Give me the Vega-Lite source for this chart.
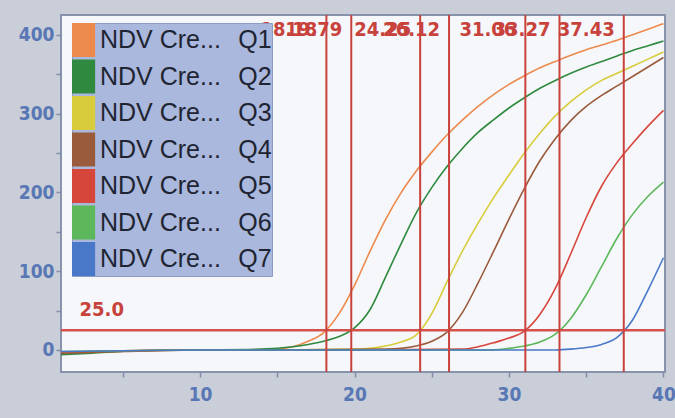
{
  "$schema": "https://vega.github.io/schema/vega-lite/v6.json",
  "width": 604,
  "height": 357,
  "autosize": {"type": "none"},
  "padding": {"left": 61, "top": 15, "right": 10, "bottom": 46},
  "background": "#c9ced8",
  "config": {
    "view": {"fill": "#f6f7fb", "stroke": "#8793ab", "strokeWidth": 2},
    "axis": {
      "grid": false,
      "labelFont": "DejaVu Sans Condensed",
      "labelFontWeight": "bold",
      "labelFontSize": 19,
      "labelColor": "#5877b4",
      "domain": false,
      "tickColor": "#7f8cab",
      "tickSize": 5,
      "tickWidth": 1.5
    },
    "legend": {
      "orient": "none",
      "legendX": 11,
      "legendY": 8,
      "padding": 0,
      "fillColor": "#a9b8dc",
      "strokeColor": "#8d9cc4",
      "symbolType": "M-1,-1H0.36V1H-1Z",
      "symbolSize": 1156,
      "symbolStrokeWidth": 0,
      "labelFont": "Liberation Sans",
      "labelFontSize": 25,
      "labelColor": "#1f2432",
      "labelOffset": -6,
      "labelLimit": 400,
      "rowPadding": 2.5
    }
  },
  "datasets": {
    "curves": [
      {"series": "Q1", "cycle": 1, "rfu": -5}, {"series": "Q1", "cycle": 3, "rfu": -3}, {"series": "Q1", "cycle": 6, "rfu": -1}, {"series": "Q1", "cycle": 10, "rfu": 0}, {"series": "Q1", "cycle": 13, "rfu": 0}, {"series": "Q1", "cycle": 15, "rfu": 1}, {"series": "Q1", "cycle": 16, "rfu": 4}, {"series": "Q1", "cycle": 17, "rfu": 11}, {"series": "Q1", "cycle": 18, "rfu": 22}, {"series": "Q1", "cycle": 19, "rfu": 46}, {"series": "Q1", "cycle": 20, "rfu": 82}, {"series": "Q1", "cycle": 21, "rfu": 125}, {"series": "Q1", "cycle": 22, "rfu": 165}, {"series": "Q1", "cycle": 23, "rfu": 199}, {"series": "Q1", "cycle": 24, "rfu": 227}, {"series": "Q1", "cycle": 25, "rfu": 251}, {"series": "Q1", "cycle": 26, "rfu": 273}, {"series": "Q1", "cycle": 27, "rfu": 292}, {"series": "Q1", "cycle": 28, "rfu": 309}, {"series": "Q1", "cycle": 29, "rfu": 324}, {"series": "Q1", "cycle": 30, "rfu": 337}, {"series": "Q1", "cycle": 31, "rfu": 348}, {"series": "Q1", "cycle": 32, "rfu": 358}, {"series": "Q1", "cycle": 33, "rfu": 366}, {"series": "Q1", "cycle": 34, "rfu": 374}, {"series": "Q1", "cycle": 35, "rfu": 381}, {"series": "Q1", "cycle": 36, "rfu": 387}, {"series": "Q1", "cycle": 37, "rfu": 393}, {"series": "Q1", "cycle": 38, "rfu": 400}, {"series": "Q1", "cycle": 39, "rfu": 407}, {"series": "Q1", "cycle": 40, "rfu": 414},
      {"series": "Q2", "cycle": 1, "rfu": -6}, {"series": "Q2", "cycle": 3, "rfu": -4}, {"series": "Q2", "cycle": 6, "rfu": -1}, {"series": "Q2", "cycle": 10, "rfu": 0}, {"series": "Q2", "cycle": 14, "rfu": 1}, {"series": "Q2", "cycle": 16, "rfu": 4}, {"series": "Q2", "cycle": 17, "rfu": 7}, {"series": "Q2", "cycle": 18, "rfu": 11}, {"series": "Q2", "cycle": 19, "rfu": 17}, {"series": "Q2", "cycle": 20, "rfu": 28}, {"series": "Q2", "cycle": 21, "rfu": 51}, {"series": "Q2", "cycle": 22, "rfu": 92}, {"series": "Q2", "cycle": 23, "rfu": 134}, {"series": "Q2", "cycle": 24, "rfu": 174}, {"series": "Q2", "cycle": 25, "rfu": 206}, {"series": "Q2", "cycle": 26, "rfu": 233}, {"series": "Q2", "cycle": 27, "rfu": 256}, {"series": "Q2", "cycle": 28, "rfu": 276}, {"series": "Q2", "cycle": 29, "rfu": 292}, {"series": "Q2", "cycle": 30, "rfu": 307}, {"series": "Q2", "cycle": 31, "rfu": 320}, {"series": "Q2", "cycle": 32, "rfu": 332}, {"series": "Q2", "cycle": 33, "rfu": 342}, {"series": "Q2", "cycle": 34, "rfu": 351}, {"series": "Q2", "cycle": 35, "rfu": 359}, {"series": "Q2", "cycle": 36, "rfu": 366}, {"series": "Q2", "cycle": 37, "rfu": 373}, {"series": "Q2", "cycle": 38, "rfu": 380}, {"series": "Q2", "cycle": 39, "rfu": 386}, {"series": "Q2", "cycle": 40, "rfu": 392},
      {"series": "Q3", "cycle": 1, "rfu": -3}, {"series": "Q3", "cycle": 5, "rfu": -1}, {"series": "Q3", "cycle": 10, "rfu": 0}, {"series": "Q3", "cycle": 15, "rfu": 0}, {"series": "Q3", "cycle": 20, "rfu": 1}, {"series": "Q3", "cycle": 21, "rfu": 2}, {"series": "Q3", "cycle": 22, "rfu": 5}, {"series": "Q3", "cycle": 23, "rfu": 10}, {"series": "Q3", "cycle": 24, "rfu": 19}, {"series": "Q3", "cycle": 25, "rfu": 46}, {"series": "Q3", "cycle": 26, "rfu": 87}, {"series": "Q3", "cycle": 27, "rfu": 126}, {"series": "Q3", "cycle": 28, "rfu": 161}, {"series": "Q3", "cycle": 29, "rfu": 193}, {"series": "Q3", "cycle": 30, "rfu": 222}, {"series": "Q3", "cycle": 31, "rfu": 250}, {"series": "Q3", "cycle": 32, "rfu": 275}, {"series": "Q3", "cycle": 33, "rfu": 297}, {"series": "Q3", "cycle": 34, "rfu": 315}, {"series": "Q3", "cycle": 35, "rfu": 330}, {"series": "Q3", "cycle": 36, "rfu": 342}, {"series": "Q3", "cycle": 37, "rfu": 351}, {"series": "Q3", "cycle": 38, "rfu": 360}, {"series": "Q3", "cycle": 39, "rfu": 369}, {"series": "Q3", "cycle": 40, "rfu": 378},
      {"series": "Q4", "cycle": 1, "rfu": -4}, {"series": "Q4", "cycle": 5, "rfu": -2}, {"series": "Q4", "cycle": 10, "rfu": 0}, {"series": "Q4", "cycle": 15, "rfu": 0}, {"series": "Q4", "cycle": 22, "rfu": 1}, {"series": "Q4", "cycle": 23, "rfu": 2}, {"series": "Q4", "cycle": 24, "rfu": 5}, {"series": "Q4", "cycle": 25, "rfu": 11}, {"series": "Q4", "cycle": 26, "rfu": 23}, {"series": "Q4", "cycle": 27, "rfu": 48}, {"series": "Q4", "cycle": 28, "rfu": 85}, {"series": "Q4", "cycle": 29, "rfu": 125}, {"series": "Q4", "cycle": 30, "rfu": 166}, {"series": "Q4", "cycle": 31, "rfu": 205}, {"series": "Q4", "cycle": 32, "rfu": 240}, {"series": "Q4", "cycle": 33, "rfu": 268}, {"series": "Q4", "cycle": 34, "rfu": 291}, {"series": "Q4", "cycle": 35, "rfu": 309}, {"series": "Q4", "cycle": 36, "rfu": 323}, {"series": "Q4", "cycle": 37, "rfu": 335}, {"series": "Q4", "cycle": 38, "rfu": 347}, {"series": "Q4", "cycle": 39, "rfu": 359}, {"series": "Q4", "cycle": 40, "rfu": 371},
      {"series": "Q5", "cycle": 1, "rfu": -3}, {"series": "Q5", "cycle": 5, "rfu": -1}, {"series": "Q5", "cycle": 10, "rfu": 0}, {"series": "Q5", "cycle": 20, "rfu": 0}, {"series": "Q5", "cycle": 27, "rfu": 1}, {"series": "Q5", "cycle": 28, "rfu": 4}, {"series": "Q5", "cycle": 29, "rfu": 9}, {"series": "Q5", "cycle": 30, "rfu": 15}, {"series": "Q5", "cycle": 31, "rfu": 24}, {"series": "Q5", "cycle": 32, "rfu": 45}, {"series": "Q5", "cycle": 33, "rfu": 78}, {"series": "Q5", "cycle": 34, "rfu": 122}, {"series": "Q5", "cycle": 35, "rfu": 168}, {"series": "Q5", "cycle": 36, "rfu": 208}, {"series": "Q5", "cycle": 37, "rfu": 238}, {"series": "Q5", "cycle": 38, "rfu": 262}, {"series": "Q5", "cycle": 39, "rfu": 284}, {"series": "Q5", "cycle": 40, "rfu": 304},
      {"series": "Q6", "cycle": 1, "rfu": -2}, {"series": "Q6", "cycle": 10, "rfu": 0}, {"series": "Q6", "cycle": 20, "rfu": 0}, {"series": "Q6", "cycle": 29, "rfu": 0}, {"series": "Q6", "cycle": 30, "rfu": 2}, {"series": "Q6", "cycle": 31, "rfu": 5}, {"series": "Q6", "cycle": 32, "rfu": 10}, {"series": "Q6", "cycle": 33, "rfu": 20}, {"series": "Q6", "cycle": 34, "rfu": 40}, {"series": "Q6", "cycle": 35, "rfu": 70}, {"series": "Q6", "cycle": 36, "rfu": 106}, {"series": "Q6", "cycle": 37, "rfu": 142}, {"series": "Q6", "cycle": 38, "rfu": 172}, {"series": "Q6", "cycle": 39, "rfu": 195}, {"series": "Q6", "cycle": 40, "rfu": 213},
      {"series": "Q7", "cycle": 1, "rfu": -2}, {"series": "Q7", "cycle": 10, "rfu": 0}, {"series": "Q7", "cycle": 20, "rfu": 0}, {"series": "Q7", "cycle": 33, "rfu": 0}, {"series": "Q7", "cycle": 34, "rfu": 1}, {"series": "Q7", "cycle": 35, "rfu": 3}, {"series": "Q7", "cycle": 36, "rfu": 7}, {"series": "Q7", "cycle": 37, "rfu": 16}, {"series": "Q7", "cycle": 38, "rfu": 38}, {"series": "Q7", "cycle": 39, "rfu": 76}, {"series": "Q7", "cycle": 40, "rfu": 117}
    ],
    "ct": [
      {"ct": 18.18, "label": "18.18"},
      {"ct": 19.79, "label": "19.79"},
      {"ct": 24.25, "label": "24.25"},
      {"ct": 26.12, "label": "26.12"},
      {"ct": 31.06, "label": "31.06"},
      {"ct": 33.27, "label": "33.27"},
      {"ct": 37.43, "label": "37.43"}
    ],
    "threshold": [{"value": 25, "label": "25.0"}]
  },
  "layer": [
    {
      "mark": {"type": "rule", "color": "#4d525e", "strokeWidth": 1.5},
      "encoding": {"y": {"datum": 0, "type": "quantitative", "scale": {"domain": [-28, 425], "nice": false, "zero": false}, "axis": {"values": [0, 50, 100, 150, 200, 250, 300, 350, 400], "labelExpr": "datum.value % 100 === 0 ? datum.label : ''", "title": null, "labelPadding": 2}}}
    },
    {
      "data": {"name": "curves"},
      "mark": {"type": "line", "strokeWidth": 1.6, "interpolate": "monotone"},
      "encoding": {
        "x": {"field": "cycle", "type": "quantitative", "scale": {"domain": [1, 40.1], "nice": false, "zero": false}, "axis": {"values": [5, 10, 15, 20, 25, 30, 35, 40], "labelExpr": "datum.value % 10 === 0 ? datum.label : ''", "title": null, "labelPadding": 8}},
        "y": {"field": "rfu", "type": "quantitative"},
        "color": {
          "field": "series",
          "type": "nominal",
          "scale": {"domain": ["Q1", "Q2", "Q3", "Q4", "Q5", "Q6", "Q7"], "range": ["#ec8a4e", "#2f8a3f", "#d8cc3c", "#9a5a3c", "#d6463b", "#5cb85a", "#4a78c8"]},
          "legend": {
            "title": null,
            "labelExpr": "'NDV Cre...\u2002\u2009' + datum.label + '\u2002'",
            "encode": {"symbols": {"update": {"fill": {"scale": "color", "field": "value"}, "fillOpacity": {"value": 1}, "opacity": {"value": 1}}}}
          }
        }
      }
    },
    {
      "data": {"name": "threshold"},
      "mark": {"type": "rule", "color": "#d4524b", "strokeWidth": 2.5},
      "encoding": {"y": {"field": "value", "type": "quantitative"}}
    },
    {
      "data": {"name": "ct"},
      "mark": {"type": "rule", "color": "#c8423c", "strokeWidth": 2},
      "encoding": {"x": {"field": "ct", "type": "quantitative"}}
    },
    {
      "data": {"name": "ct"},
      "mark": {"type": "text", "align": "right", "baseline": "middle", "dx": -9, "font": "DejaVu Sans Condensed", "fontWeight": "bold", "fontSize": 20, "color": "#c8423c"},
      "encoding": {"x": {"field": "ct", "type": "quantitative"}, "y": {"datum": 406, "type": "quantitative"}, "text": {"field": "label"}}
    },
    {
      "data": {"name": "threshold"},
      "mark": {"type": "text", "align": "left", "baseline": "middle", "dy": -20, "font": "DejaVu Sans Condensed", "fontWeight": "bold", "fontSize": 20, "color": "#c8423c"},
      "encoding": {"x": {"datum": 2.2, "type": "quantitative"}, "y": {"field": "value", "type": "quantitative"}, "text": {"field": "label"}}
    }
  ]
}
